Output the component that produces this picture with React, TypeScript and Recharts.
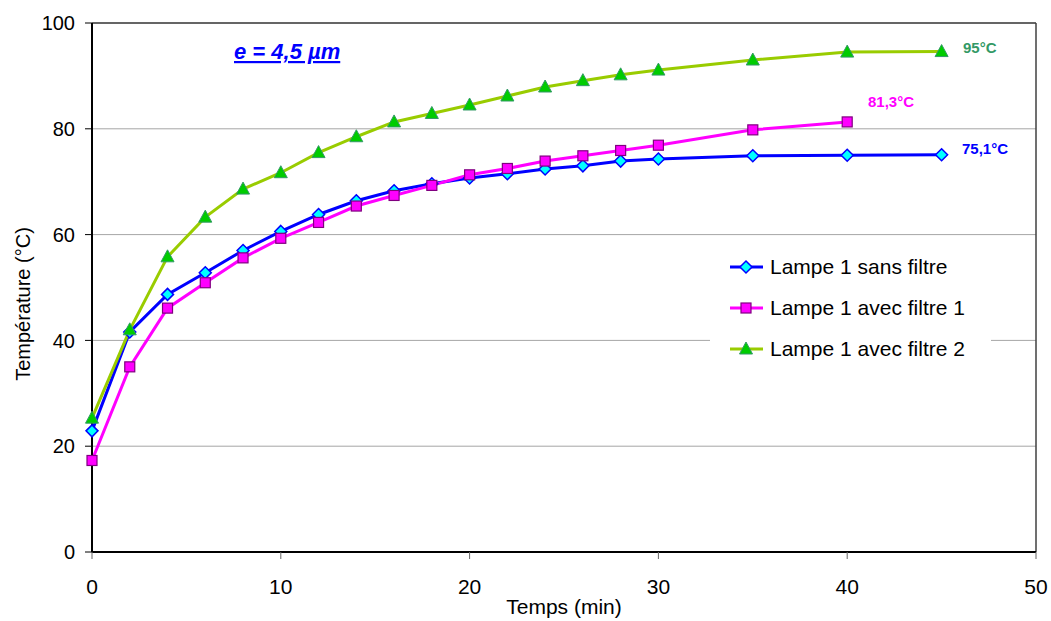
import React from 'react';
import { LineChart, Line, XAxis, YAxis, CartesianGrid, ReferenceLine, Legend } from 'recharts';

const times = [0, 2, 4, 6, 8, 10, 12, 14, 16, 18, 20, 22, 24, 26, 28, 30, 35, 40, 45];
const sansFiltre = [22.9, 41.6, 48.7, 52.8, 57.0, 60.6, 63.8, 66.4, 68.3, 69.6, 70.7, 71.5, 72.4, 73.0, 73.9, 74.3, 74.9, 75.0, 75.1];
const avecFiltre1: (number | null)[] = [17.3, 35.0, 46.1, 50.9, 55.6, 59.3, 62.3, 65.4, 67.4, 69.3, 71.3, 72.5, 73.9, 74.9, 75.9, 76.9, 79.8, 81.3, null];
const avecFiltre2 = [25.3, 42.0, 55.8, 63.3, 68.6, 71.7, 75.5, 78.5, 81.3, 82.9, 84.5, 86.2, 87.9, 89.1, 90.2, 91.1, 93.0, 94.5, 94.6];

const xTicks = [0, 10, 20, 30, 40, 50];
const yTicks = [0, 20, 40, 60, 80, 100];

const seriesNames = ['Lampe 1 sans filtre', 'Lampe 1 avec filtre 1', 'Lampe 1 avec filtre 2'];

const data = times.map((t, i) => ({
  t,
  s0: sansFiltre[i],
  s1: avecFiltre1[i],
  s2: avecFiltre2[i],
}));

const FONT = '"Liberation Sans", Arial, sans-serif';

const BLUE = '#0000FF';
const MAGENTA = '#FF00FF';
const GREEN = '#99CC00';

function Diamond({ cx, cy }: { cx: number; cy: number }) {
  return (
    <polygon
      points={`${cx},${cy - 6} ${cx + 6},${cy} ${cx},${cy + 6} ${cx - 6},${cy}`}
      fill="#00FFFF"
      stroke={BLUE}
      strokeWidth={1.5}
    />
  );
}
function Square({ cx, cy }: { cx: number; cy: number }) {
  return <rect x={cx - 5} y={cy - 5} width={10} height={10} fill={MAGENTA} stroke="#800080" strokeWidth={1.2} />;
}
function Triangle({ cx, cy }: { cx: number; cy: number }) {
  return (
    <polygon
      points={`${cx},${cy - 7} ${cx + 6.5},${cy + 5} ${cx - 6.5},${cy + 5}`}
      fill="#00CC00"
      stroke="#339966"
      strokeWidth={1}
    />
  );
}

const makeDot = (Shape: any, name: string) => (props: any) => {
  const { cx, cy, index } = props;
  if (cx == null || cy == null || props.value == null) return <g key={`${name}-${index}`} />;
  return (
    <g key={`${name}-${index}`}>
      <Shape cx={cx} cy={cy} />
    </g>
  );
};

const legendItems = [
  { name: seriesNames[0], color: BLUE, Shape: Diamond },
  { name: seriesNames[1], color: MAGENTA, Shape: Square },
  { name: seriesNames[2], color: GREEN, Shape: Triangle },
];

const renderLegend = () => (
  <div style={{ width: 281, height: 122, background: '#fff', position: 'relative' }}>
    {legendItems.map((it, i) => (
      <div
        key={it.name}
        style={{ position: 'absolute', left: 0, top: 9 + i * 41, height: 24, display: 'flex', alignItems: 'center' }}
      >
        <svg width={60} height={24} style={{ display: 'block' }}>
          <line x1={20} y1={12} x2={53} y2={12} stroke={it.color} strokeWidth={3} />
          <it.Shape cx={36} cy={12} />
        </svg>
        <span style={{ fontFamily: FONT, fontSize: 21, color: '#000', whiteSpace: 'nowrap' }}>{it.name}</span>
      </div>
    ))}
  </div>
);

export default function App() {
  return (
    <div style={{ position: 'absolute', left: 0, top: 0, width: 1051, height: 621, background: '#fff' }}>
      <LineChart
        width={1051}
        height={621}
        data={data}
        margin={{ top: 23, right: 15, bottom: 0, left: 0 }}
        style={{ fontFamily: FONT }}
      >
        <CartesianGrid vertical={false} stroke="#a6a6a6" strokeWidth={1} />
        <XAxis
          dataKey="t"
          type="number"
          domain={[0, 50]}
          ticks={xTicks}
          height={69}
          tickSize={7}
          tickMargin={20}
          axisLine={{ stroke: '#000', strokeWidth: 2 }}
          tickLine={{ stroke: '#666' }}
          tick={{ fill: '#000', fontSize: 21, fontFamily: FONT }}
          label={{ value: 'Temps (min)', position: 'insideBottom', offset: 7, fill: '#000', fontSize: 21, fontFamily: FONT }}
        />
        <YAxis
          type="number"
          domain={[0, 100]}
          ticks={yTicks}
          width={92}
          tickSize={7}
          tickMargin={10}
          axisLine={{ stroke: '#000', strokeWidth: 2 }}
          tickLine={{ stroke: '#000' }}
          tick={{ fill: '#000', fontSize: 20, fontFamily: FONT }}
          label={{
            content: () => (
              <text
                x={23}
                y={304}
                transform="rotate(-90, 23, 304)"
                textAnchor="middle"
                dominantBaseline="central"
                fill="#000"
                fontSize={20}
                fontFamily={FONT}
              >
                Température (°C)
              </text>
            ),
          }}
        />
        <ReferenceLine y={100} stroke="#404040" strokeWidth={1.5} />
        <ReferenceLine x={50} stroke="#404040" strokeWidth={1.5} />
        <Legend
          layout="horizontal"
          verticalAlign="middle"
          align="center"
          content={renderLegend}
          wrapperStyle={{ position: 'absolute', left: 710, top: 246, width: 281, height: 122 }}
        />
        <Line
          type="linear"
          dataKey="s0"
          name={seriesNames[0]}
          stroke={BLUE}
          strokeWidth={3}
          dot={makeDot(Diamond, 's0')}
          isAnimationActive={false}
        />
        <Line
          type="linear"
          dataKey="s1"
          name={seriesNames[1]}
          stroke={MAGENTA}
          strokeWidth={3}
          dot={makeDot(Square, 's1')}
          isAnimationActive={false}
        />
        <Line
          type="linear"
          dataKey="s2"
          name={seriesNames[2]}
          stroke={GREEN}
          strokeWidth={3}
          dot={makeDot(Triangle, 's2')}
          isAnimationActive={false}
        />
      </LineChart>
      <svg width={1051} height={621} style={{ position: 'absolute', left: 0, top: 0, pointerEvents: 'none' }}>
        <text x={234} y={59} fill={BLUE} fontSize={22} fontWeight="bold" fontStyle="italic" fontFamily={FONT} textDecoration="underline">
          e = 4,5 µm
        </text>
        <text x={963} y={53} fill="#339966" fontSize={15} fontWeight="bold" fontFamily={FONT}>
          95°C
        </text>
        <text x={868} y={107} fill={MAGENTA} fontSize={15} fontWeight="bold" fontFamily={FONT}>
          81,3°C
        </text>
        <text x={962} y={154} fill={BLUE} fontSize={15} fontWeight="bold" fontFamily={FONT}>
          75,1°C
        </text>
      </svg>
    </div>
  );
}
